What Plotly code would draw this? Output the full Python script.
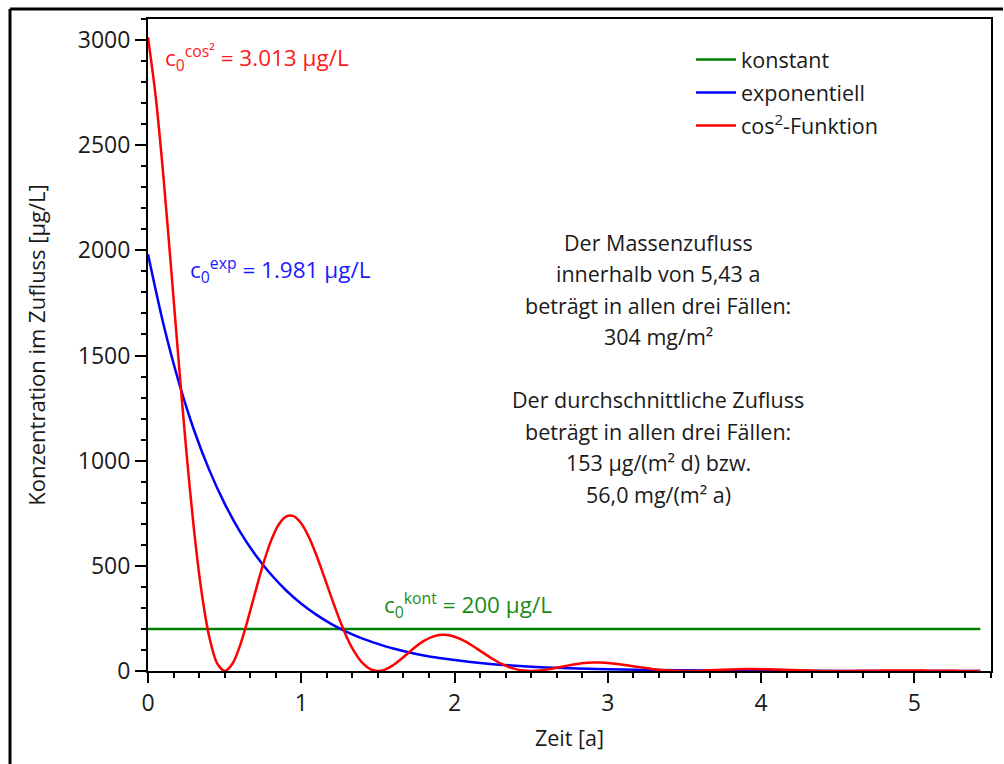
import plotly.graph_objects as go

# Zeitachse [a] und Zuflusskonzentrationen [µg/L]
t_konst = [0.0, 5.43]
c_konst = [200, 200]

t_exp = [0.0, 0.1, 0.2, 0.3, 0.4, 0.5, 0.6, 0.7, 0.8, 0.9, 1.0,
         1.1, 1.2, 1.3, 1.4, 1.5, 1.6, 1.7, 1.8, 1.9, 2.0,
         2.2, 2.4, 2.6, 2.8, 3.0, 3.5, 4.0, 4.5, 5.0, 5.43]
c_exp = [1981, 1651, 1376, 1146, 955, 796, 663, 553, 461, 384, 320,
         267, 222, 185, 154, 129, 107, 89, 74, 62, 52,
         36, 25, 17, 12, 8, 3, 1, 0.5, 0.2, 0.1]

t_cos = [0.00, 0.05, 0.10, 0.15, 0.20, 0.25, 0.30, 0.35, 0.40, 0.45,
         0.50, 0.55, 0.60, 0.65, 0.70, 0.75, 0.80, 0.85, 0.90, 0.95,
         1.00, 1.05, 1.10, 1.15, 1.20, 1.25, 1.30, 1.35, 1.40, 1.45,
         1.50, 1.55, 1.60, 1.65, 1.70, 1.75, 1.80, 1.85, 1.90, 1.95,
         2.00, 2.05, 2.10, 2.15, 2.20, 2.25, 2.30, 2.35, 2.40, 2.45,
         2.50, 2.55, 2.60, 2.65, 2.70, 2.75, 2.80, 2.85, 2.90, 2.95,
         3.0, 3.1, 3.2, 3.3, 3.4, 3.5, 3.6, 3.7, 3.8, 3.9,
         4.0, 4.1, 4.2, 4.3, 4.4, 4.5, 4.6, 4.7, 4.8, 4.9,
         5.0, 5.1, 5.2, 5.3, 5.4, 5.43]
c_cos = [3013, 2733, 2356, 1922, 1473, 1046, 672, 373, 161, 38,
         0, 33, 120, 241, 375, 505, 614, 693, 734, 736,
         701, 636, 548, 447, 343, 244, 156, 87, 37, 9,
         0, 8, 28, 56, 87, 118, 143, 161, 171, 171,
         163, 148, 128, 104, 80, 57, 36, 20, 9, 2,
         0, 2, 7, 13, 20, 27, 33, 38, 40, 40,
         38, 30, 19, 8.5, 2, 0, 1.5, 4.7, 7.7, 9.2,
         8.8, 6.9, 4.3, 2.0, 0.5, 0, 0.4, 1.1, 1.8, 2.2,
         2.0, 1.6, 1.0, 0.5, 0.1, 0.0]

serien = [
    ("konstant", t_konst, c_konst, "#008000", "linear"),
    ("exponentiell", t_exp, c_exp, "#0000ff", "spline"),
    ("cos<sup>2</sup>-Funktion", t_cos, c_cos, "#ff0000", "spline"),
]

# Texte im Diagramm
anfangswerte = [
    ("c<sub>0</sub><sup>cos²</sup> = 3.013 µg/L", 0.10, 2915, "#ff1a1a"),
    ("c<sub>0</sub><sup>exp</sup> = 1.981 µg/L", 0.26, 1905, "#1a1aff"),
    ("c<sub>0</sub><sup>kont</sup> = 200 µg/L", 1.525, 314, "#1a8c1a"),
]
info_zeilen = [
    "Der Massenzufluss",
    "innerhalb von 5,43 a",
    "beträgt in allen drei Fällen:",
    "304 mg/m²",
    "",
    "Der durchschnittliche Zufluss",
    "beträgt in allen drei Fällen:",
    "153 µg/(m² d) bzw.",
    "56,0 mg/(m² a)",
]

FONT = "Open Sans, Noto Sans, DejaVu Sans, sans-serif"
W, H = 1004, 764
ML, MR, MT, MB = 148, 13, 19, 93
plot_h = H - MT - MB
pw = W - ML - MR

fig = go.Figure()
for i, (name, t, c, col, shape) in enumerate(serien):
    fig.add_trace(go.Scatter(
        x=t, y=c, mode="lines", name=name, legendgroup=str(i),
        line=dict(color=col, width=2.5, shape=shape, smoothing=0.8),
    ))

for text, x, y, col in anfangswerte:
    fig.add_annotation(x=x, y=y, xref="x", yref="y", text=text,
                       showarrow=False, xanchor="left", yanchor="middle",
                       font=dict(family=FONT, size=22.5, color=col))

# Infotext zeilenweise (Zeilenabstand ca. 31 px)
y0_px = 242
for k, zeile in enumerate(info_zeilen):
    if not zeile:
        continue
    py = y0_px + k * 31.5
    fig.add_annotation(x=3.33, y=(H - MB - py) / plot_h, xref="x", yref="paper",
                       text=zeile, showarrow=False, xanchor="center",
                       yanchor="middle",
                       font=dict(family=FONT, size=21.5, color="#1a1a1a"))

# äußerer Rahmen (links und oben)
fig.add_shape(type="line", xref="paper", yref="paper",
              x0=(10 - ML) / pw, x1=(1003 - ML) / pw,
              y0=(H - MB - 9) / plot_h, y1=(H - MB - 9) / plot_h,
              line=dict(color="black", width=3))
fig.add_shape(type="line", xref="paper", yref="paper",
              x0=(10 - ML) / pw, x1=(10 - ML) / pw,
              y0=(H - MB - 9) / plot_h, y1=-0.2,
              line=dict(color="black", width=3))

fig.update_layout(
    width=W, height=H,
    margin=dict(l=ML, r=MR, t=MT, b=MB, pad=0),
    paper_bgcolor="white", plot_bgcolor="white",
    font=dict(family=FONT, size=21, color="#1a1a1a"),
    showlegend=True,
    legend=dict(x=(691 - ML) / pw, y=(H - MB - 39) / plot_h,
                xanchor="left", yanchor="top",
                bgcolor="rgba(0,0,0,0)", borderwidth=0,
                tracegroupgap=2, itemwidth=40,
                font=dict(family=FONT, size=21.5, color="#1a1a1a")),
    xaxis=dict(
        range=[0, 5.5], showgrid=False, zeroline=False,
        showline=True, linecolor="black", linewidth=2, mirror=True,
        ticks="outside", ticklen=10, tickwidth=2, tickcolor="black",
        dtick=1, tick0=0,
        minor=dict(ticks="outside", dtick=1 / 6, ticklen=5, tickwidth=2,
                   tickcolor="black", showgrid=False),
        title=dict(text="Zeit [a]", standoff=14,
                   font=dict(family=FONT, size=21.5)),
        tickfont=dict(family=FONT, size=23),
    ),
    yaxis=dict(
        range=[0, 3100], showgrid=False, zeroline=False,
        showline=True, linecolor="black", linewidth=2, mirror=True,
        ticks="outside", ticklen=11, tickwidth=2, tickcolor="black",
        dtick=500, tick0=0,
        minor=dict(ticks="outside", dtick=100, ticklen=5, tickwidth=2,
                   tickcolor="black", showgrid=False),
        title=dict(text="Konzentration im Zufluss [µg/L]", standoff=26,
                   font=dict(family=FONT, size=22)),
        tickfont=dict(family=FONT, size=23),
    ),
)

fig.write_html("out.html")
